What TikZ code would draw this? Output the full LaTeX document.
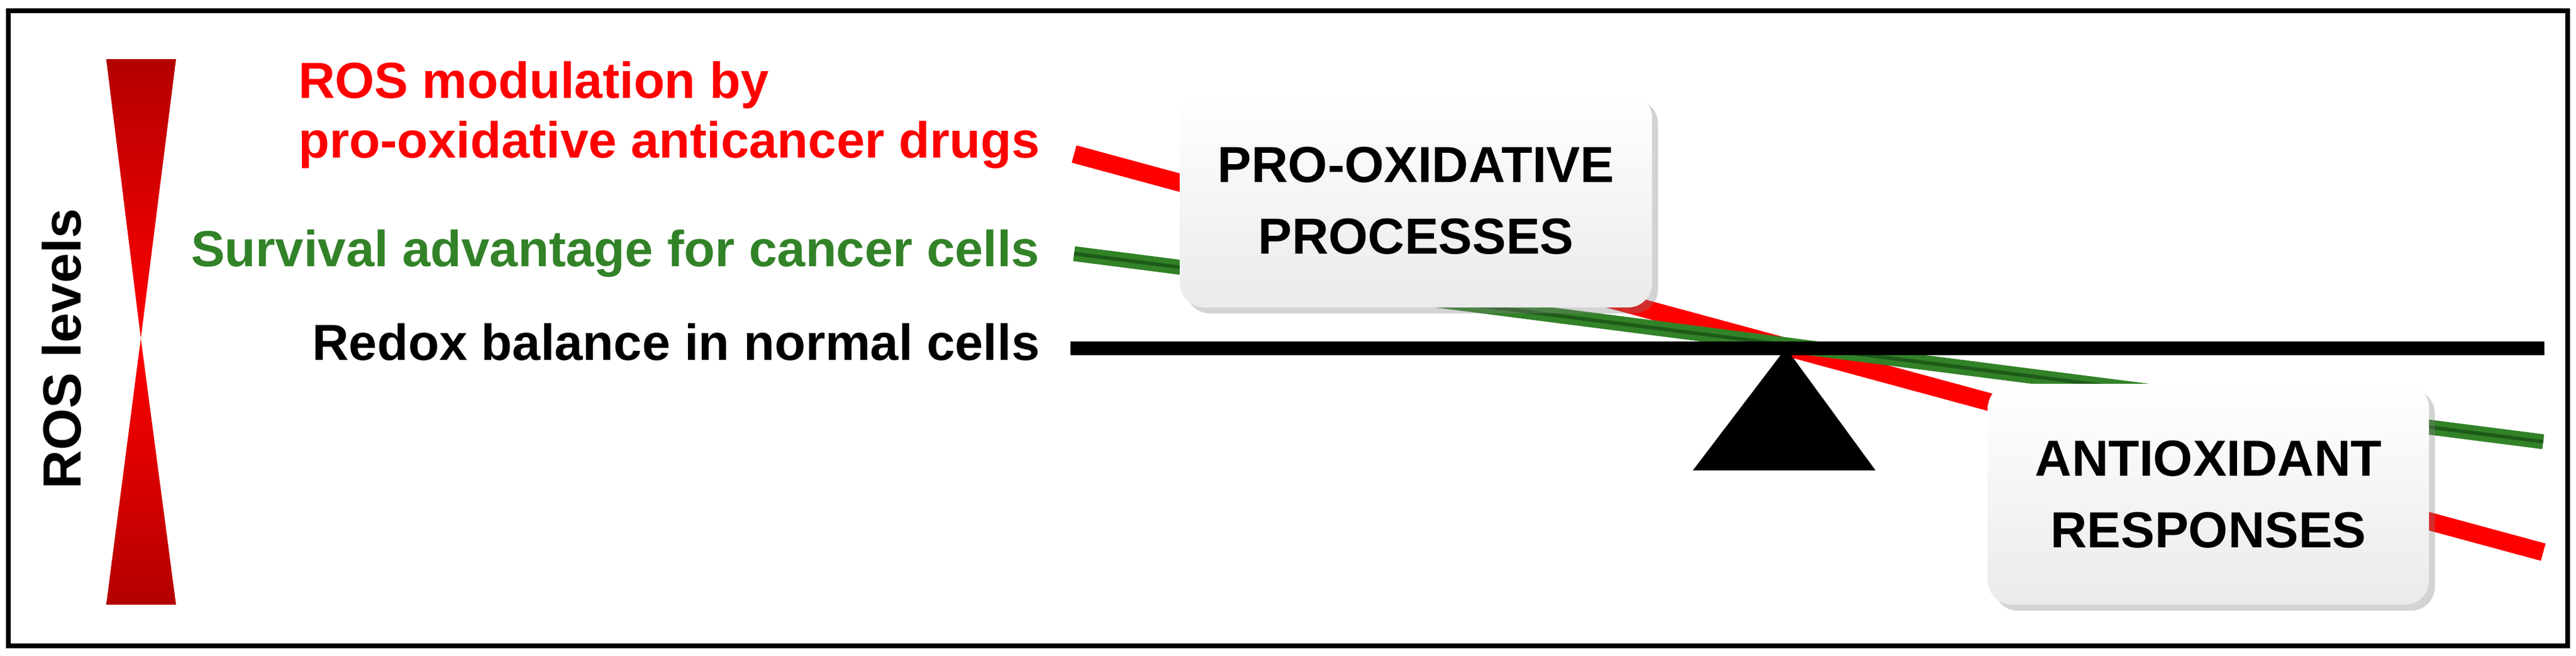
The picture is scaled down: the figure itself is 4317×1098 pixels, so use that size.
\documentclass[tikz,border=0pt]{standalone}
\usepackage{fontspec}
\setmainfont{Liberation Sans}
\usetikzlibrary{shadows}
\definecolor{rosred}{RGB}{255,0,0}
\definecolor{darkred}{RGB}{180,0,0}
\definecolor{grn}{RGB}{50,130,40}
\definecolor{dgrn}{RGB}{30,90,25}
\tikzset{
  lbl/.style={font=\fontsize{17}{20}\selectfont\bfseries, anchor=east},
  boxnode/.style={draw=none, rounded corners=8pt, top color=white, bottom color=black!8,
     drop shadow={shadow xshift=2pt, shadow yshift=-2pt, opacity=0.35},
     font=\fontsize{17}{22}\selectfont\bfseries, align=center, inner sep=0pt},
}
\begin{document}
\begin{tikzpicture}[x=0.2pt,y=-0.2pt]
\useasboundingbox (0,0) rectangle (4317,1098);
\draw[line width=1.6pt] (14,18) rectangle (4303,1082);
% ROS bar
\shade[top color=darkred, bottom color=rosred] (178,99) -- (295,99) -- (236,567) -- cycle;
\shade[top color=rosred, bottom color=darkred] (236,567) -- (295,1013) -- (178,1013) -- cycle;
\node[rotate=90, font=\fontsize{18}{20}\selectfont\bfseries] (roslev) at (103,584) {ROS levels};
% labels
\node[lbl, text=rosred, align=left, anchor=south east] (mod) at (1760,300) {ROS modulation by\\pro-oxidative anticancer drugs};
\node[lbl, text=grn] (surv) at (1760,425) {Survival advantage for cancer cells};
\node[lbl] (redox) at (1760,573) {Redox balance in normal cells};
% coordinates
\coordinate (pv) at (2993,583);
\coordinate (rs) at (1800,258);
\coordinate (re) at (4262,925);
\coordinate (gs) at (1800,425);
\coordinate (ge) at (4262,740);
\draw[rosred, line width=6pt] (rs) -- (re);
\draw[grn, line width=5pt] (gs) -- (ge);
\draw[dgrn, line width=1.2pt] (gs) -- (ge);
% beam and pivot
\coordinate (bl) at (1794,583);
\coordinate (br) at (4264,583);
\draw[line width=4.6pt] (bl) -- (br);
\fill (pv) -- (3143,788) -- (2837,788) -- cycle;
% boxes
\node[boxnode, minimum width=791*0.2pt, minimum height=358*0.2pt] (pro) at (2373,336) {PRO-OXIDATIVE\\[2pt]PROCESSES};
\node[boxnode, minimum width=739*0.2pt, minimum height=370*0.2pt] (anti) at (3701,828) {ANTIOXIDANT\\[2pt]RESPONSES};
\end{tikzpicture}
\end{document}
